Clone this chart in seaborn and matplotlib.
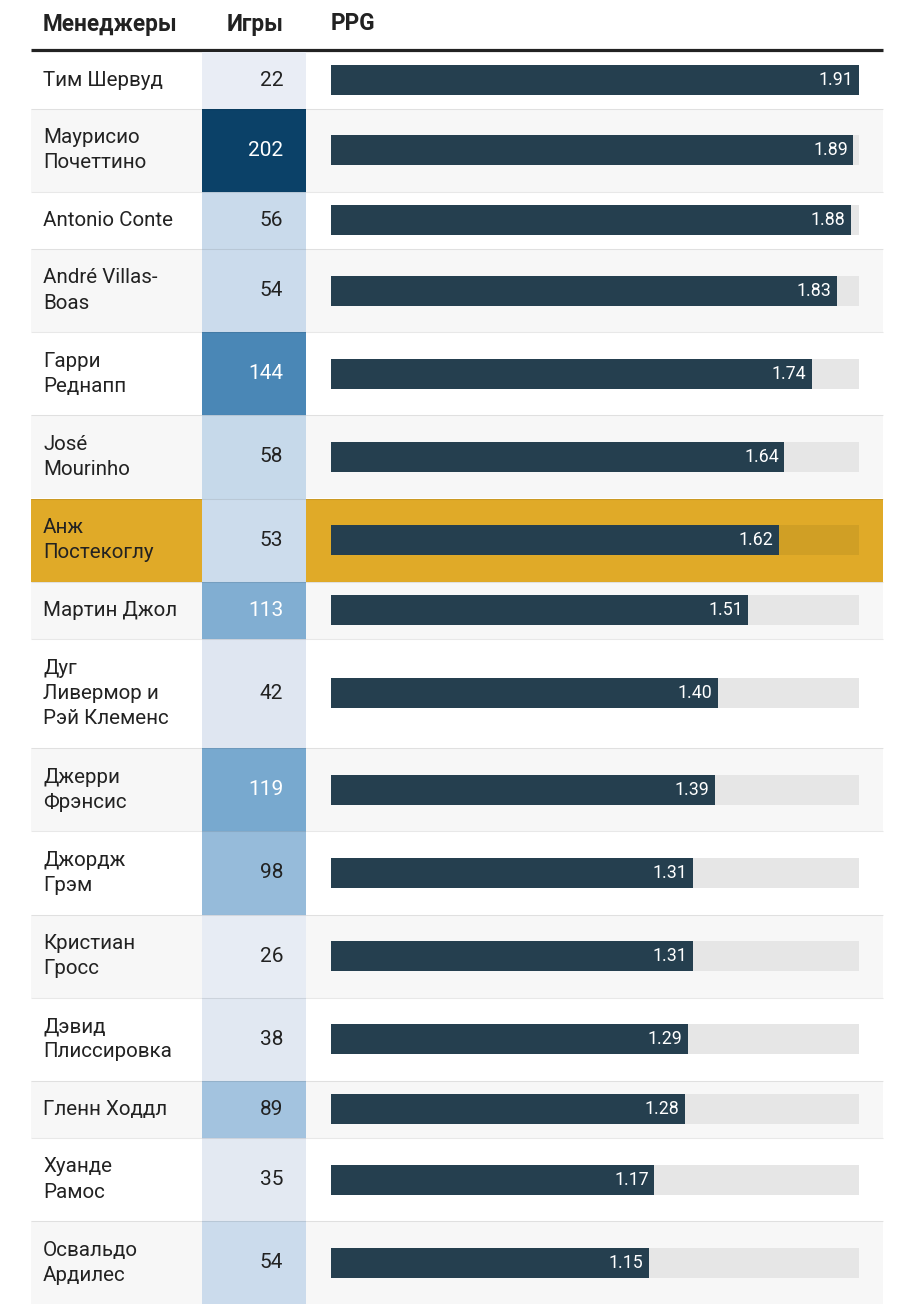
import numpy as np
import matplotlib.pyplot as plt
import matplotlib.colors as mcolors
import seaborn as sns

# ── data ──────────────────────────────────────────────────
managers = [
    "Тим Шервуд",
    "Маурисио\nПочеттино",
    "Antonio Conte",
    "André Villas-\nBoas",
    "Гарри\nРеднапп",
    "José\nMourinho",
    "Анж\nПостекоглу",
    "Мартин Джол",
    "Дуг\nЛивермор и\nРэй Клеменс",
    "Джерри\nФрэнсис",
    "Джордж\nГрэм",
    "Кристиан\nГросс",
    "Дэвид\nПлиссировка",
    "Гленн Ходдл",
    "Хуанде\nРамос",
    "Освальдо\nАрдилес",
]
games = [22, 202, 56, 54, 144, 58, 53, 113, 42, 119, 98, 26, 38, 89, 35, 54]
ppg = [1.91, 1.89, 1.88, 1.83, 1.74, 1.64, 1.62, 1.51, 1.40, 1.39, 1.31, 1.31, 1.29, 1.28, 1.17, 1.15]
highlight = "Анж\nПостекоглу"
headers = ["Менеджеры", "Игры", "PPG"]

# colour scale of the games column, stops
games_stops = [22, 42, 53, 89, 119, 144, 202]
games_colors = ["#e9edf5", "#dfe6f1", "#ccdcec", "#a3c3df", "#78a9cf", "#4a87b6", "#0b4168"]

# ── style ─────────────────────────────────────────────────
sns.set_theme(style="white")
plt.rcParams["font.family"] = ["Roboto", "DejaVu Sans"]

BAR = "#253f4f"
TRACK = "#e6e6e6"
GOLD = "#e0aa28"
GOLD_TRACK = "#d09f25"
INK = "#222222"

W, H = 900, 1308
fig = plt.figure(figsize=(W / 100, H / 100), dpi=100)

# row layout in pixels: height grows with the number of text lines
n_lines = np.array([m.count("\n") + 1 for m in managers])
row_h = 31 + 26.1 * n_lines
edges = 51.5 + np.concatenate([[0], np.cumsum(row_h)])
centers = (edges[:-1] + edges[1:]) / 2


def px_axes(x0, x1, z=0):
    ax = fig.add_axes([x0 / W, 0, (x1 - x0) / W, 1], zorder=z)
    ax.set_axis_off()
    ax.patch.set_alpha(0)
    return ax


# ── background, header and names ─────────────────────────
bg = px_axes(0, W)
row_colors = [GOLD if m == highlight else ("white" if i % 2 == 0 else "#f7f7f7")
              for i, m in enumerate(managers)]
bg.barh(centers, 852, left=31, height=row_h, color=row_colors, linewidth=0)
bg.plot([31, 883], [50, 50], color=INK, lw=2.3, solid_capstyle="butt")

head_kw = dict(va="center", fontsize=16.3, fontweight="bold", color=INK)
bg.text(43, 24, headers[0], ha="left", **head_kw)
bg.text(283, 24, headers[1], ha="right", **head_kw)
bg.text(331, 24, headers[2], ha="left", **head_kw)

for name, c in zip(managers, centers):
    bg.text(43, c, name, ha="left", va="center", fontsize=14.8, color=INK, linespacing=1.42)
bg.set_xlim(0, W)
bg.set_ylim(H, 0)

# ── games column as coloured cells ───────────────────────
pos = [(v - games_stops[0]) / (games_stops[-1] - games_stops[0]) for v in games_stops]
cmap = mcolors.LinearSegmentedColormap.from_list("games", list(zip(pos, games_colors)))
norm = mcolors.Normalize(games_stops[0], games_stops[-1])

ax_g = px_axes(202, 306, z=1)
ax_g.pcolormesh([0, 1], edges, np.array(games)[:, None], cmap=cmap, norm=norm)
for g, c in zip(games, centers):
    ax_g.text(0.78, c, str(g), ha="right", va="center", fontsize=15,
              color="white" if g >= 110 else INK)
ax_g.set_xlim(0, 1)
ax_g.set_ylim(H, 0)

# ── PPG bars ──────────────────────────────────────────────
ax_p = px_axes(331, 859, z=2)
track = np.full(len(ppg), max(ppg))
bar_w = 30 / np.min(np.diff(centers))
track_pal = {m: (GOLD_TRACK if m == highlight else TRACK) for m in managers}

sns.barplot(x=track, y=centers, hue=managers, palette=track_pal, legend=False,
            orient="y", native_scale=True, width=bar_w, saturation=1,
            linewidth=0, errorbar=None, ax=ax_p)
sns.barplot(x=ppg, y=centers, color=BAR, orient="y", native_scale=True,
            width=bar_w, saturation=1, linewidth=0, errorbar=None, ax=ax_p)

for v, c in zip(ppg, centers):
    ax_p.annotate(f"{v:.2f}", xy=(v, c), xytext=(-4, 0), textcoords="offset points",
                  ha="right", va="center", fontsize=12.8, color="white")
ax_p.set_xlim(0, max(ppg))
ax_p.set_ylim(H, 0)
ax_p.set_axis_off()

# ── thin row separators on top ────────────────────────────
top = px_axes(0, W, z=3)
top.hlines(edges[1:-1], 31, 883, color="black", alpha=0.09, lw=0.8)
top.set_xlim(0, W)
top.set_ylim(H, 0)

fig.savefig("out.png", dpi=100)
